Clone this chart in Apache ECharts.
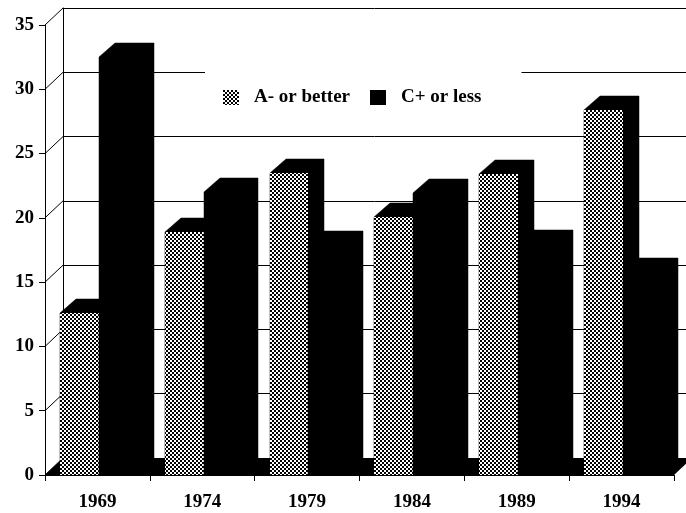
<!DOCTYPE html>
<html>
<head>
<meta charset="utf-8">
<script src="https://cdn.jsdelivr.net/npm/echarts@6/dist/echarts.min.js"></script>
<style>
html,body{margin:0;padding:0;background:#fff;}
#chart{width:686px;height:513px;}
</style>
</head>
<body>
<div id="chart"></div>
<script>
const categories = ['1969', '1974', '1979', '1984', '1989', '1994'];
const aOrBetter = [12.6, 18.9, 23.5, 20.1, 23.4, 28.4];
const cOrLess = [32.5, 22.0, 17.9, 21.9, 18.0, 15.8];
const yTicks = [0, 5, 10, 15, 20, 25, 30, 35];
const seriesNames = ['A- or better', 'C+ or less'];

const FONT = '"Liberation Serif", "DejaVu Serif", serif';
const WALL_DX = 18, WALL_DY = 17;
const BAR_DX = 16, BAR_DY = 14;

// stipple pattern
const cv = document.createElement('canvas');
cv.width = 4; cv.height = 4;
const cx = cv.getContext('2d');
cx.fillStyle = '#fff'; cx.fillRect(0, 0, 4, 4);
cx.fillStyle = '#000';
cx.fillRect(0, 0, 2, 2);
cx.fillRect(2, 2, 2, 2);
const stipple = { image: cv, repeat: 'repeat' };

function barRender(seriesIdx) {
  return function (params, api) {
    const i = api.value(0);
    const v = api.value(1);
    const top = api.coord([i, v]);
    const base = api.coord([i, 0]);
    const bw = api.size([1, 0])[0];
    const start = top[0] - bw / 2;
    const w = bw * 0.37;
    const left = Math.round(start + bw * 0.143 + seriesIdx * w);
    const right = Math.round(start + bw * 0.143 + (seriesIdx + 1) * w);
    const y1 = Math.round(top[1]), y0 = Math.round(base[1]);
    const children = [];
    // black silhouette (front + top + side)
    children.push({
      type: 'polygon',
      shape: { points: [[left, y0], [left, y1], [left + BAR_DX, y1 - BAR_DY], [right + BAR_DX, y1 - BAR_DY], [right + BAR_DX, y0 - BAR_DY], [right, y0]] },
      style: { fill: '#000', stroke: '#000', lineWidth: 0.5 }
    });
    if (seriesIdx === 0) {
      children.push({ type: 'rect', shape: { x: left, y: y1, width: right - left, height: y0 - y1 }, style: { fill: stipple } });
    }
    return { type: 'group', children: children };
  };
}

const chart = echarts.init(document.getElementById('chart'), null, { renderer: 'canvas' });
chart.setOption({
  animation: false,
  backgroundColor: '#fff',
  grid: [
    { left: 45, right: 12, top: 25, bottom: 38 },
    { left: 45 + WALL_DX, right: 12 - WALL_DX, top: 25 - WALL_DY, bottom: 38 + WALL_DY }
  ],
  xAxis: [
    {
      type: 'category', data: categories, gridIndex: 0,
      axisLine: { show: true, lineStyle: { color: '#000' } },
      axisTick: { show: true, length: 6, lineStyle: { color: '#000' } },
      axisLabel: { fontFamily: FONT, fontSize: 19, fontWeight: 'bold', color: '#000', margin: 18 },
      splitLine: { show: false }
    },
    { type: 'category', data: categories, gridIndex: 1, show: false }
  ],
  yAxis: [
    {
      type: 'value', min: 0, max: 35, interval: 5, gridIndex: 0,
      axisLine: { show: true, lineStyle: { color: '#000' } },
      axisTick: { show: true, length: 6, lineStyle: { color: '#000' } },
      axisLabel: { fontFamily: FONT, fontSize: 19, fontWeight: 'bold', color: '#000', margin: 11 },
      splitLine: { show: false }
    },
    {
      type: 'value', min: 0, max: 35, interval: 5, gridIndex: 1,
      axisLine: { show: true, lineStyle: { color: '#000' } },
      axisTick: { show: false },
      axisLabel: { show: false },
      splitLine: { show: true, lineStyle: { color: '#000', width: 1 } }
    }
  ],
  legend: {
    left: 205, top: 68,
    padding: [20, 40, 25, 18],
    backgroundColor: '#fff',
    itemWidth: 16, itemHeight: 15, itemGap: 20,
    icon: 'rect',
    textStyle: { fontFamily: FONT, fontSize: 19, fontWeight: 'bold', color: '#000', padding: [0, 0, 0, 10] },
    data: seriesNames
  },
  series: [
    {
      name: 'floor', type: 'custom', xAxisIndex: 0, yAxisIndex: 0, z: 1, silent: true,
      data: [[0, 0]],
      renderItem: function (params, api) {
        const cs = params.coordSys;
        const y = api.coord([0, 0])[1];
        return { type: 'polygon', shape: { points: [[cs.x, y], [cs.x + cs.width, y], [cs.x + cs.width + WALL_DX, y - WALL_DY], [cs.x + WALL_DX, y - WALL_DY]] }, style: { fill: '#000' } };
      }
    },
    {
      name: 'wall', type: 'custom', xAxisIndex: 0, yAxisIndex: 0, z: 1, silent: true,
      data: yTicks.map(v => [0, v]),
      renderItem: function (params, api) {
        const cs = params.coordSys;
        const y = api.coord([0, api.value(1)])[1];
        return { type: 'line', shape: { x1: cs.x, y1: y, x2: cs.x + WALL_DX, y2: y - WALL_DY }, style: { stroke: '#000', lineWidth: 1 } };
      }
    },
    {
      name: seriesNames[0], type: 'custom', xAxisIndex: 0, yAxisIndex: 0, z: 2,
      itemStyle: { color: stipple },
      data: aOrBetter.map((v, i) => [i, v]),
      renderItem: barRender(0)
    },
    {
      name: seriesNames[1], type: 'custom', xAxisIndex: 0, yAxisIndex: 0, z: 3,
      itemStyle: { color: '#000' },
      data: cOrLess.map((v, i) => [i, v]),
      renderItem: barRender(1)
    }
  ]
});
</script>
</body>
</html>
